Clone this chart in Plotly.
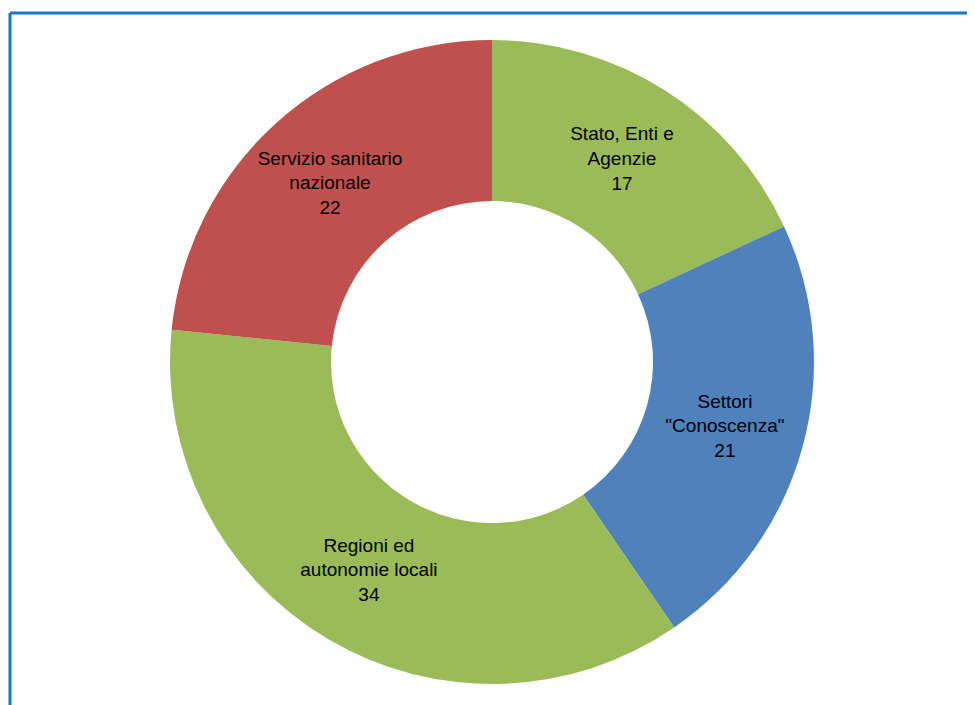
import plotly.graph_objects as go

labels = ["Stato, Enti e<br>Agenzie", "Settori<br>\"Conoscenza\"", "Regioni ed<br>autonomie locali", "Servizio sanitario<br>nazionale"]
values = [17, 21, 34, 22]
colors = ["#9BBB59", "#4F81BD", "#9BBB59", "#C0504D"]

# page body has an 8px margin, so figure coordinates are offset by 8px
OFF = 8
W, H = 975 - OFF, 705 - OFF
cx, cy, R = 492 - OFF, 362 - OFF, 322

fig = go.Figure(go.Pie(
    labels=labels,
    values=values,
    hole=0.5,
    sort=False,
    direction="clockwise",
    rotation=0,
    marker=dict(colors=colors, line=dict(width=0)),
    texttemplate="%{label}<br>%{value}",
    textposition="inside",
    insidetextorientation="horizontal",
    textfont=dict(family="Liberation Sans, Arial, sans-serif", size=19, color="black"),
    showlegend=False,
    domain=dict(x=[(cx - R) / W, (cx + R) / W], y=[1 - (cy + R) / H, 1 - (cy - R) / H]),
))

fx, fy = 10 - OFF, 13 - OFF
fig.update_layout(
    width=W, height=H,
    margin=dict(l=0, r=0, t=0, b=0),
    paper_bgcolor="white",
    uniformtext=dict(minsize=19, mode="show"),
    shapes=[
        dict(type="line", xref="paper", yref="paper", x0=fx / W, x1=1, y0=1 - fy / H, y1=1 - fy / H,
             line=dict(color="#1679CC", width=3)),
        dict(type="line", xref="paper", yref="paper", x0=fx / W, x1=fx / W, y0=0, y1=1 - fy / H,
             line=dict(color="#1679CC", width=3)),
    ],
)

fig.write_html("out.html")
